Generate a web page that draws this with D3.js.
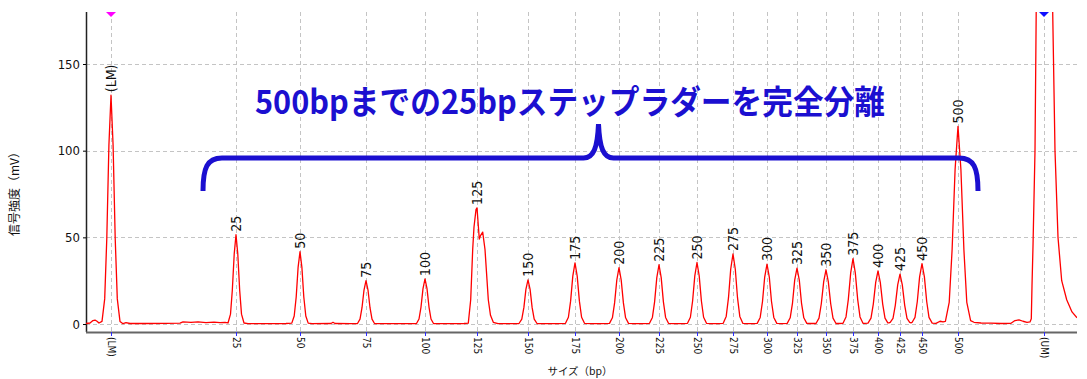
<!DOCTYPE html>
<html>
<head>
<meta charset="utf-8">
<script src="https://cdn.jsdelivr.net/npm/d3@7"></script>
<style>
  body { margin: 0; background: #fff; }
  svg { display: block; }
</style>
</head>
<body>
<div id="vis"></div>
<script>
// size ladder electropherogram, 25bp steps up to 500bp

// peak labels (bp), the scan position of each peak and its height in mV
var sizeLabels = ["(LM)", "25", "50", "75", "100", "125", "150", "175", "200", "225", "250",
                  "275", "300", "325", "350", "375", "400", "425", "450", "500", "(UM)"];
var peakScan = [25, 150, 214, 280, 339, 391, 442, 489, 533, 573, 611,
                647, 681, 711, 740, 767, 792, 814, 836, 872, 958];
var peakHeight = [132, 51.5, 41.7, 25, 26, 67, 25.5, 35.3, 32.5, 34.2, 35.5,
                  40.4, 34.6, 32.3, 31.3, 37.7, 30.7, 28.8, 34.8, 114, null];

var yTicks = [0, 50, 100, 150];

// the trace itself, [scan, mV]
var trace = [
  [0, 0.3], [4, 0.6], [7, 2], [9, 2.3], [11, 1.6], [13, 0.6], [16, 1.5],
  [18.7, 14.5], [20.8, 49.5], [22.9, 103], [25, 132], [27.1, 103], [29.2, 49.5], [31.3, 14.5], [34, 1.5],
  [37, 0.2], [40, 0.8], [44, 0.3], [60, 0.3], [80, 0.4], [94, 0.5], [97, 1.2], [105, 0.9], [112, 1.3],
  [120, 0.8], [128, 1.1], [134, 0.8], [139, 1.0],
  [142, 0.6], [144.5, 5.7], [146.3, 19.3], [148.2, 40.3], [150, 51.5], [151.8, 40.3], [153.7, 19.3], [155.5, 5.7], [158, 0.6],
  [162, 0.2], [180, 0.2], [200, 0.3],
  [205.8, 0.5], [208.2, 4.6], [210.2, 15.6], [212.1, 32.7], [214, 41.7], [215.9, 32.7], [217.8, 15.6], [219.8, 4.6], [222.2, 0.5],
  [226, 0.2], [245, 0.3], [247, 1.0], [249, 0.3], [265, 0.2],
  [271.5, 0.3], [274, 2.8], [276, 9.4], [278, 19.6], [280, 25], [282, 19.6], [284, 9.4], [286, 2.8], [288.5, 0.3],
  [300, 0.2], [320, 0.2],
  [330.5, 0.3], [333, 2.9], [335, 9.8], [337, 20.4], [339, 26], [341, 20.4], [343, 9.8], [345, 2.9], [347.5, 0.3],
  [360, 0.2], [378, 0.3],
  [382.3, 0.5], [384.7, 14], [386.7, 43], [388, 56], [390, 66], [391, 67], [393.3, 49], [394.5, 51], [396.7, 53],
  [399, 43], [402.3, 14], [404.5, 5], [407.3, 1],
  [412, 0.2], [428, 0.2],
  [433, 0.3], [435.8, 2.8], [437.9, 9.6], [439.9, 20], [442, 25.5], [444.1, 20], [446.1, 9.6], [448.2, 2.8], [451, 0.3],
  [460, 0.2], [472, 0.2],
  [479.5, 0.4], [482.4, 3.9], [484.6, 13.2], [486.8, 27.6], [489, 35.3], [491.2, 27.6], [493.4, 13.2], [495.6, 3.9], [498.5, 0.4],
  [505, 0.2], [516, 0.2],
  [523.5, 0.4], [526.4, 3.6], [528.6, 12.2], [530.8, 25.4], [533, 32.5], [535.2, 25.4], [537.4, 12.2], [539.6, 3.6], [542.5, 0.4],
  [548, 0.2], [557, 0.2],
  [563.5, 0.4], [566.4, 3.8], [568.6, 12.8], [570.8, 26.8], [573, 34.2], [575.2, 26.8], [577.4, 12.8], [579.6, 3.8], [582.5, 0.4],
  [587, 0.2], [596, 0.2],
  [601.5, 0.4], [604.4, 3.9], [606.6, 13.3], [608.8, 27.8], [611, 35.5], [613.2, 27.8], [615.4, 13.3], [617.6, 3.9], [620.5, 0.4],
  [625, 0.2], [632, 0.2],
  [637.2, 0.4], [640.2, 4.4], [642.5, 15.2], [644.7, 31.6], [647, 40.4], [649.3, 31.6], [651.5, 15.2], [653.8, 4.4], [656.8, 0.4],
  [661, 0.2], [667, 0.2],
  [671.2, 0.4], [674.2, 3.8], [676.5, 13], [678.7, 27.1], [681, 34.6], [683.3, 27.1], [685.5, 13], [687.8, 3.8], [690.8, 0.4],
  [696, 0.2],
  [701.2, 0.4], [704.2, 3.6], [706.5, 12.1], [708.7, 25.3], [711, 32.3], [713.3, 25.3], [715.5, 12.1], [717.8, 3.6], [720.8, 0.4],
  [725, 0.3],
  [730, 0.3], [733, 3.4], [735.3, 11.7], [737.7, 24.5], [740, 31.3], [742.3, 24.5], [744.7, 11.7], [747, 3.4], [750, 0.3],
  [753, 0.3],
  [757, 0.4], [760, 4.1], [762.3, 14.1], [764.7, 29.5], [767, 37.7], [769.3, 29.5], [771.7, 14.1], [774, 4.1], [777, 0.4],
  [779, 0.4],
  [782, 0.5], [785, 3.4], [787.3, 11.5], [789.7, 24], [792, 30.7], [794.3, 24], [796.7, 11.5], [799, 3.4], [801.8, 0.7],
  [803, 0.7],
  [804.2, 0.9], [807, 3.2], [809.3, 10.8], [811.7, 22.6], [814, 28.8], [816.3, 22.6], [818.7, 10.8], [821, 3.2], [823.7, 0.9],
  [825, 0.7],
  [826, 0.9], [829, 3.8], [831.3, 13], [833.6, 27.2], [836, 34.8], [838.4, 27.2], [840.7, 13], [843, 3.8], [846.2, 0.5],
  [850, 0.4], [854, 1.6], [857, 1.2],
  [859.4, 1.5], [863.2, 12.5], [866.1, 42.8], [869.1, 89.3], [872, 114], [874.9, 89.3], [877.9, 42.8], [880.8, 12.5], [884.6, 2],
  [888, 1.0], [895, 0.6], [905, 0.5], [915, 0.3], [925, 0.4], [929, 2.0], [933, 2.4], [937, 1.6], [941, 1.0], [944, 1.2],
  [945.3, 3], [946, 22], [947, 45], [949, 100], [950.5, 200], [953, 330], [958, 400], [963, 330], [966, 200],
  [966.7, 180], [969, 100], [972, 50], [975.7, 25], [980.7, 14], [986, 7], [991, 3.6]
];

// annotation: title text and the brace under it (scan / mV)
var titleText = "500bpまでの25bpステップラダーを完全分離";
var titlePos = [484, 121];
var braceScan = [117, 512.5, 892];
var braceLevel = [76.8, 95.8, 115.4];   // ends, bar, tip

var width = 1087,
    height = 379,
    margin = { top: 12, right: 10, bottom: 47, left: 86 },
    plotW = width - margin.left - margin.right,
    plotH = height - margin.top - margin.bottom;

var numFont = "'Liberation Sans Narrow', 'DejaVu Sans Condensed', sans-serif",
    jpFont = "'Noto Sans CJK JP', sans-serif",
    blue = "#1b0fd0";

var svg = d3.select("#vis").append("svg")
    .attr("width", width)
    .attr("height", height);

var x = d3.scaleLinear()
    .domain([0, 991])
    .range([margin.left, margin.left + plotW]);

var y = d3.scaleLinear()
    .domain([-4.6, 180])
    .range([margin.top + plotH, margin.top]);

svg.append("clipPath").attr("id", "plot-clip")
  .append("rect")
    .attr("x", margin.left)
    .attr("y", margin.top)
    .attr("width", plotW)
    .attr("height", plotH);

// dashed grid
var grid = svg.append("g")
    .attr("stroke", "#c4c4c4")
    .attr("stroke-dasharray", "4,3")
    .attr("stroke-width", 1);

grid.selectAll(".hgrid")
  .data(yTicks)
  .enter().append("line")
    .attr("class", "hgrid")
    .attr("x1", margin.left)
    .attr("x2", margin.left + plotW)
    .attr("y1", function(d) { return Math.round(y(d)) + 0.5; })
    .attr("y2", function(d) { return Math.round(y(d)) + 0.5; });

grid.selectAll(".vgrid")
  .data(peakScan)
  .enter().append("line")
    .attr("class", "vgrid")
    .attr("x1", function(d) { return Math.round(x(d)) + 0.5; })
    .attr("x2", function(d) { return Math.round(x(d)) + 0.5; })
    .attr("y1", margin.top)
    .attr("y2", margin.top + plotH);

// y axis
var yAxis = svg.append("g")
    .attr("transform", "translate(" + margin.left + ",0)")
    .call(d3.axisLeft(y).tickValues(yTicks).tickSize(3).tickPadding(3));

yAxis.select(".domain")
    .attr("d", "M0.5," + margin.top + "V" + (margin.top + plotH))
    .attr("stroke", "#222")
    .attr("stroke-width", 1.5);

yAxis.selectAll("text")
    .attr("font-family", numFont)
    .attr("font-size", 13)
    .attr("fill", "#111");

// x axis: labelled at the peaks
var xAxis = svg.append("g")
    .attr("transform", "translate(0," + (margin.top + plotH) + ")")
    .call(d3.axisBottom(x)
      .tickValues(peakScan)
      .tickFormat(function(d, i) { return sizeLabels[i]; })
      .tickSize(4)
      .tickSizeOuter(0));

xAxis.select(".domain")
    .attr("d", "M" + margin.left + ",0.5H" + (margin.left + plotW))
    .attr("stroke", "#666")
    .attr("stroke-width", 2);

xAxis.selectAll(".tick line")
    .attr("stroke", "#2b2bff");

xAxis.selectAll("text")
    .attr("font-family", numFont)
    .attr("font-size", 10)
    .attr("fill", "#111")
    .attr("text-anchor", "start")
    .attr("transform", "rotate(90)")
    .attr("x", 5)
    .attr("y", 0)
    .attr("dy", "0.35em");

// trace
var line = d3.line()
    .x(function(d) { return x(d[0]); })
    .y(function(d) { return y(d[1]); });

svg.append("path")
    .datum(trace)
    .attr("clip-path", "url(#plot-clip)")
    .attr("fill", "none")
    .attr("stroke", "#ff0000")
    .attr("stroke-width", 1.3)
    .attr("stroke-linejoin", "round")
    .attr("d", line);

// peak labels above each peak
svg.append("g").selectAll("text")
  .data(peakScan.filter(function(d, i) { return peakHeight[i] != null; }))
  .enter().append("text")
    .attr("transform", function(d, i) {
      return "translate(" + x(d) + "," + (y(peakHeight[i]) - 3) + ") rotate(-90)";
    })
    .attr("dy", "0.36em")
    .attr("font-family", "'DejaVu Sans Condensed', sans-serif")
    .attr("font-size", 14)
    .attr("fill", "#111")
    .text(function(d, i) { return sizeLabels[i]; });

// lower / upper marker triangles
var markers = [[peakScan[0], "#ff00ff"], [peakScan[peakScan.length - 1], "#1010ff"]];
svg.selectAll(".marker")
  .data(markers)
  .enter().append("path")
    .attr("class", "marker")
    .attr("fill", function(d) { return d[1]; })
    .attr("d", function(d) {
      var cx = x(d[0]);
      return "M" + (cx - 5) + "," + margin.top + "L" + (cx + 5) + "," + margin.top + "L" + cx + "," + (margin.top + 5) + "Z";
    });

// axis titles
svg.append("text")
    .attr("transform", "translate(15," + (margin.top + plotH / 2 + 19) + ") rotate(-90)")
    .attr("text-anchor", "middle")
    .attr("dy", "0.35em")
    .attr("font-family", jpFont)
    .attr("font-size", 12)
    .attr("fill", "#111")
    .text("信号強度（mV）");

svg.append("text")
    .attr("x", 580)
    .attr("y", 375)
    .attr("text-anchor", "middle")
    .attr("font-family", jpFont)
    .attr("font-size", 10.5)
    .attr("fill", "#111")
    .text("サイズ（bp）");

// brace annotation
var bx0 = x(braceScan[0]), bxc = x(braceScan[1]), bx1 = x(braceScan[2]),
    byEnd = y(braceLevel[0]), byBar = y(braceLevel[1]), byTip = y(braceLevel[2]);

var brace = d3.path();
brace.moveTo(bx0, byEnd);
brace.bezierCurveTo(bx0, byBar + 10, bx0 + 4, byBar, bx0 + 19, byBar);
brace.lineTo(bxc - 15, byBar);
brace.bezierCurveTo(bxc - 5, byBar, bxc - 1, byBar - 10, bxc, byTip);
brace.bezierCurveTo(bxc + 1, byBar - 10, bxc + 5, byBar, bxc + 15, byBar);
brace.lineTo(bx1 - 19, byBar);
brace.bezierCurveTo(bx1 - 4, byBar, bx1, byBar + 10, bx1, byEnd);

svg.append("path")
    .attr("d", brace.toString())
    .attr("fill", "none")
    .attr("stroke", blue)
    .attr("stroke-width", 5);

svg.append("text")
    .attr("x", x(titlePos[0]))
    .attr("y", y(titlePos[1]))
    .attr("text-anchor", "middle")
    .attr("font-family", jpFont)
    .attr("font-weight", "bold")
    .attr("font-size", 33)
    .attr("textLength", 630)
    .attr("lengthAdjust", "spacingAndGlyphs")
    .attr("fill", blue)
    .text(titleText);
</script>
</body>
</html>
